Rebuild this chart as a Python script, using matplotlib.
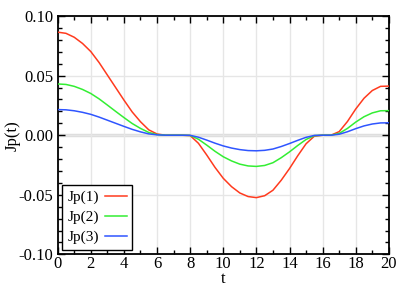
import numpy as np
import matplotlib
matplotlib.use("Agg")
import matplotlib.pyplot as plt
from matplotlib.ticker import MultipleLocator

# values, t every 0.5
t = np.arange(0, 20.01, 0.5)
jp1 = [0.0865, 0.0855, 0.0822, 0.0770, 0.0702, 0.0610, 0.0505, 0.0400, 0.0295, 0.0195,
       0.0113, 0.0045, 0.0010, 0.0, 0.0, 0.0, -0.0003, -0.0068, -0.0166, -0.0270,
       -0.0362, -0.0432, -0.0485, -0.0515, -0.0524, -0.0508, -0.0462, -0.0378, -0.0280, -0.0172,
       -0.0072, -0.0008, 0.0, 0.0, 0.0030, 0.0115, 0.0220, 0.0310, 0.0375, 0.0410, 0.0412]
jp2 = [0.0430, 0.0426, 0.0410, 0.0384, 0.0350, 0.0305, 0.0253, 0.0200, 0.0148, 0.0098,
       0.0057, 0.0023, 0.0005, 0.0, 0.0, 0.0, -0.0002, -0.0034, -0.0083, -0.0135,
       -0.0181, -0.0216, -0.0243, -0.0258, -0.0262, -0.0254, -0.0231, -0.0189, -0.0140, -0.0086,
       -0.0036, -0.0004, 0.0, 0.0, 0.0015, 0.0057, 0.0110, 0.0155, 0.0187, 0.0205, 0.0206]
jp3 = [0.0215, 0.0213, 0.0205, 0.0192, 0.0175, 0.0152, 0.0126, 0.0100, 0.0074, 0.0049,
       0.0028, 0.0011, 0.0003, 0.0, 0.0, 0.0, -0.0001, -0.0017, -0.0041, -0.0067,
       -0.0090, -0.0108, -0.0121, -0.0129, -0.0131, -0.0127, -0.0116, -0.0095, -0.0070, -0.0043,
       -0.0018, -0.0002, 0.0, 0.0, 0.0008, 0.0029, 0.0055, 0.0078, 0.0094, 0.0103, 0.0104]
labels = ["Jp(1)", "Jp(2)", "Jp(3)"]
colors = ["#ff3a1e", "#33ee33", "#2f55ff"]

plt.rcParams['font.family'] = ['Liberation Serif', 'DejaVu Serif']
plt.rcParams['font.size'] = 12

fig = plt.figure(figsize=(4.15, 2.92), dpi=100)
ax = fig.add_axes([0.139, 0.129, 0.798, 0.816])

ax.axhline(0, color='#dddddd', lw=2.5, zorder=1)
for y, lab, c in zip([jp1, jp2, jp3], labels, colors):
    ax.plot(t, y, color=c, lw=1.1, label=lab, zorder=3)

ax.set_xlim(0, 20)
ax.set_ylim(-0.1, 0.1)
ax.xaxis.set_major_locator(MultipleLocator(2))
ax.xaxis.set_minor_locator(MultipleLocator(1))
ax.yaxis.set_major_locator(MultipleLocator(0.05))
ax.yaxis.set_minor_locator(MultipleLocator(0.01))
ax.yaxis.set_major_formatter(matplotlib.ticker.FormatStrFormatter('%.2f'))
ax.grid(True, which='major', color='#e6e6e6', lw=1.0, zorder=0)
ax.tick_params(which='both', direction='in', top=True, right=True, width=1.0)
ax.tick_params(axis='x', pad=1.5)
ax.tick_params(axis='y', pad=3)
ax.tick_params(which='major', length=5)
ax.tick_params(which='minor', length=3)
for s in ax.spines.values():
    s.set_linewidth(1.3)

ax.set_xlabel('t', labelpad=-1)
ax.set_ylabel('Jp(t)', labelpad=-1)

leg = ax.legend(loc='lower left', markerfirst=False, fancybox=False, framealpha=1,
                edgecolor='black', borderaxespad=0.3, borderpad=0.35, fontsize=11,
                labelspacing=0.4, handlelength=1.4, handletextpad=0.4)
leg.get_frame().set_linewidth(1.0)

fig.savefig('out.png', dpi=100)
